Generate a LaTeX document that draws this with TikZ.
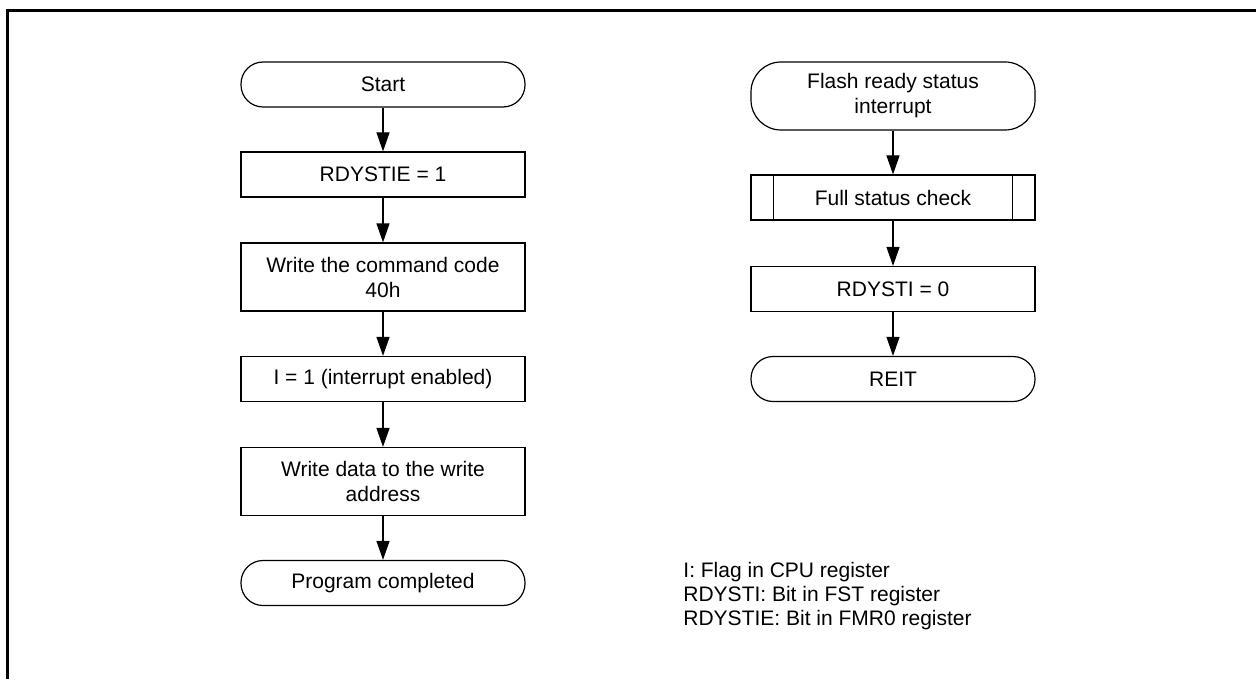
\documentclass[tikz,border=0pt]{standalone}
\usepackage{fontspec}
\setmainfont{Liberation Sans}
\usetikzlibrary{arrows.meta}

\tikzset{
  proc/.style={draw, line width=0.6pt, minimum width=142pt, minimum height=22.5pt,
    inner sep=0pt, align=center, font=\fontsize{10.5}{12.5}\selectfont},
  term/.style={proc, rounded corners=11pt},
  tall/.style={minimum height=34pt},
  note/.style={anchor=base west, inner sep=0pt, font=\fontsize{10.5}{12.5}\selectfont},
  flow/.style={line width=0.6pt, -{Triangle[length=9.5pt,width=6.5pt]}},
}

\begin{document}
\begin{tikzpicture}[x=0.5pt, y=-0.5pt]
    \useasboundingbox (0,0) rectangle (1256,679);
    \draw[line width=1.5pt] (7.5,679) -- (7.5,10.5) -- (1256,10.5);

    % program flow
    \node[term] (start) at (383,84.5) {Start};
    \node[proc] (ie) at (383,174.5) {RDYSTIE = 1};
    \node[proc, tall] (cmd) at (383,277) {Write the command code\\40h};
    \node[proc] (ien) at (383,379) {I = 1 (interrupt enabled)};
    \node[proc, tall] (wdat) at (383,481.5) {Write data to the write\\address};
    \node[term] (done) at (383,583) {Program completed};

    \draw[flow] (start) -- (ie);
    \draw[flow] (ie) -- (cmd);
    \draw[flow] (cmd) -- (ien);
    \draw[flow] (ien) -- (wdat);
    \draw[flow] (wdat) -- (done);

    % interrupt routine
    \node[term, tall, rounded corners=15pt] (flash) at (893,96) {Flash ready status\\interrupt};
    \node[proc] (chk) at (893,197.5) {Full status check};
    \draw[line width=0.6pt] ([xshift=11.5pt]chk.north west) -- ([xshift=11.5pt]chk.south west);
    \draw[line width=0.6pt] ([xshift=-11.5pt]chk.north east) -- ([xshift=-11.5pt]chk.south east);
    \node[proc] (rst) at (893,289) {RDYSTI = 0};
    \node[term] (reit) at (893,379) {REIT};

    \draw[flow] (flash) -- (chk);
    \draw[flow] (chk) -- (rst);
    \draw[flow] (rst) -- (reit);

    % legend
    \foreach \t [count=\i] in {I: Flag in CPU register, RDYSTI: Bit in FST register, RDYSTIE: Bit in FMR0 register}
      \node[note] (note\i) at (683,553+24*\i) {\t};
\end{tikzpicture}
\end{document}
